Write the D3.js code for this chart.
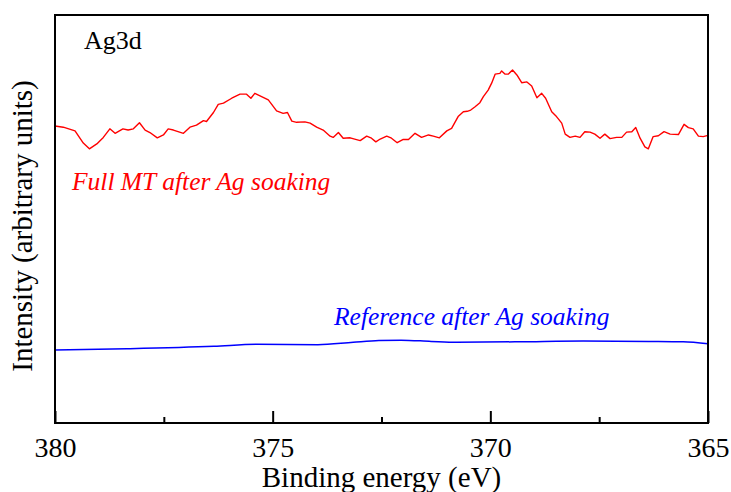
<!DOCTYPE html>
<html>
<head>
<meta charset="utf-8">
<script src="https://cdn.jsdelivr.net/npm/d3@7"></script>
<style>
  html, body { margin: 0; padding: 0; background: #fff; }
  svg { display: block; }
  text { font-family: "Liberation Serif", "Times New Roman", serif; }
</style>
</head>
<body>
<svg id="chart" width="731" height="492"></svg>
<script>
// Ag3d XPS spectra: binding energy (eV) vs intensity (arbitrary units)
const fullEnergy = [
  380.00, 379.81, 379.54, 379.35, 379.21, 379.04, 378.89, 378.74, 378.62, 378.44,
  378.32, 378.20, 378.06, 377.93, 377.82, 377.65, 377.51, 377.40, 377.28, 377.05,
  376.90, 376.75, 376.59, 376.52, 376.36, 376.25, 376.13, 375.94, 375.75, 375.60,
  375.50, 375.41, 375.29, 375.10, 374.91, 374.76, 374.66, 374.56, 374.45, 374.26,
  374.14, 373.99, 373.84, 373.68, 373.61, 373.49, 373.38, 373.22, 372.99, 372.84,
  372.73, 372.63, 372.53, 372.38, 372.27, 372.14, 372.00, 371.88, 371.73, 371.58,
  371.42, 371.31, 371.17, 371.00, 370.89, 370.74, 370.62, 370.53, 370.45, 370.35,
  370.24, 370.16, 370.05, 369.97, 369.89, 369.78, 369.74, 369.66, 369.59, 369.49,
  369.39, 369.28, 369.16, 369.05, 368.93, 368.82, 368.73, 368.59, 368.48, 368.36,
  368.28, 368.17, 368.05, 367.94, 367.83, 367.71, 367.60, 367.48, 367.37, 367.25,
  367.10, 366.98, 366.87, 366.75, 366.66, 366.56, 366.45, 366.37, 366.26, 366.14,
  366.01, 365.87, 365.68, 365.55, 365.45, 365.34, 365.22, 365.11, 365.00
];
const fullIntensity = [
  728, 725, 716, 686, 672, 684, 700, 721, 710, 721,
  718, 721, 736, 718, 712, 699, 706, 721, 718, 710,
  725, 730, 741, 739, 761, 781, 784, 796, 806, 806,
  796, 808, 802, 792, 765, 759, 761, 740, 737, 738,
  735, 725, 718, 703, 700, 712, 698, 699, 692, 703,
  698, 689, 696, 703, 698, 687, 695, 695, 710, 700,
  706, 703, 699, 716, 722, 751, 763, 764, 767, 775,
  785, 800, 816, 833, 855, 857, 863, 855, 855, 865,
  853, 834, 836, 826, 797, 808, 796, 763, 751, 735,
  708, 700, 703, 700, 714, 713, 708, 698, 708, 697,
  700, 700, 713, 714, 724, 698, 677, 672, 702, 704,
  714, 708, 707, 732, 724, 721, 703, 702, 705
];

const refEnergy = [
  380.00, 378.35, 376.35, 375.36, 373.96, 373.15, 372.56, 372.05,
  371.36, 370.77, 369.36, 367.87, 366.36, 365.57, 365.00
];
const refIntensity = [
  179, 182, 188, 193, 192, 198, 202, 203,
  200, 198, 199, 201, 200, 199, 194
];

const majorTicks = [380, 375, 370, 365];
const minorTicks = [377.5, 372.5, 367.5];

const seriesLabels = ["Full MT after Ag soaking", "Reference after Ag soaking"];
const panelLabel = "Ag3d";
const xTitle = "Binding energy (eV)";
const yTitle = "Intensity (arbitrary units)";

// layout
const plot = { left: 55, right: 708, top: 15, bottom: 423 };

const svg = d3.select("#chart");

const x = d3.scaleLinear().domain([380, 365]).range([plot.left, plot.right]);
const y = d3.scaleLinear().domain([0, 1000]).range([plot.bottom, plot.top]);

const line = d3.line()
  .x(d => x(d[0]))
  .y(d => y(d[1]));

const fullData = d3.zip(fullEnergy, fullIntensity);
const refData = d3.zip(refEnergy, refIntensity);

// spectra
svg.append("path")
  .datum(refData)
  .attr("d", line.curve(d3.curveMonotoneX))
  .attr("fill", "none")
  .attr("stroke", "#0000ff")
  .attr("stroke-width", 1.5);

svg.append("path")
  .datum(fullData)
  .attr("d", d3.line().x(d => x(d[0])).y(d => y(d[1])))
  .attr("fill", "none")
  .attr("stroke", "#ff0000")
  .attr("stroke-width", 1.4)
  .attr("stroke-linejoin", "round");

// frame
svg.append("rect")
  .attr("x", plot.left)
  .attr("y", plot.top)
  .attr("width", plot.right - plot.left)
  .attr("height", plot.bottom - plot.top)
  .attr("fill", "none")
  .attr("stroke", "#000")
  .attr("stroke-width", 2);

// bottom axis: inward ticks, labels below
const axisMajor = d3.axisBottom(x)
  .tickValues(majorTicks)
  .tickSizeInner(-12)
  .tickSizeOuter(0)
  .tickPadding(14)
  .tickFormat(d3.format("d"));

const gx = svg.append("g")
  .attr("transform", `translate(0,${plot.bottom})`)
  .call(axisMajor);
gx.select(".domain").remove();
gx.selectAll(".tick line").attr("stroke", "#000").attr("stroke-width", 2);
gx.selectAll(".tick text")
  .attr("font-family", "Liberation Serif, Times New Roman, serif")
  .attr("font-size", 28)
  .attr("fill", "#000");

const axisMinor = d3.axisBottom(x)
  .tickValues(minorTicks)
  .tickSizeInner(-6)
  .tickSizeOuter(0)
  .tickFormat("");
const gxm = svg.append("g")
  .attr("transform", `translate(0,${plot.bottom})`)
  .call(axisMinor);
gxm.select(".domain").remove();
gxm.selectAll(".tick line").attr("stroke", "#000").attr("stroke-width", 2);

// titles
svg.append("text")
  .attr("x", (plot.left + plot.right) / 2)
  .attr("y", 487)
  .attr("text-anchor", "middle")
  .attr("font-size", 29)
  .attr("fill", "#000")
  .text(xTitle);

svg.append("text")
  .attr("transform", `translate(32,${(plot.top + plot.bottom) / 2 + 7}) rotate(-90)`)
  .attr("text-anchor", "middle")
  .attr("font-size", 29)
  .attr("fill", "#000")
  .text(yTitle);

svg.append("text")
  .attr("x", 84)
  .attr("y", 49)
  .attr("font-size", 26)
  .attr("fill", "#000")
  .text(panelLabel);

// series labels
svg.append("text")
  .attr("x", 72)
  .attr("y", 190)
  .attr("font-size", 25.5)
  .attr("font-style", "italic")
  .attr("fill", "#ff0000")
  .text(seriesLabels[0]);

svg.append("text")
  .attr("x", 334)
  .attr("y", 325)
  .attr("font-size", 25.5)
  .attr("font-style", "italic")
  .attr("fill", "#0000ff")
  .text(seriesLabels[1]);
</script>
</body>
</html>
